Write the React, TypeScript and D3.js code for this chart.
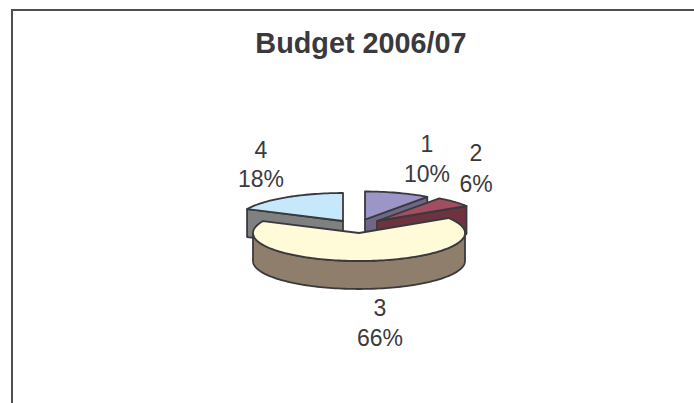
import React from "react";
import * as d3 from "d3";

const categories = ["1", "2", "3", "4"];
const percentages = [10, 6, 66, 18];
const topColors = ["#9c95c8", "#a34d63", "#fffad8", "#c5e9fb"];
const sideColors = ["#6f6785", "#6f3340", "#8f7e6c", "#7f8080"];
const title = "Budget 2006/07";

const W = 694, H = 403;
const rx = 106, ry = 28, depth = 28;
const tips: [number, number][] = [[365, 219.5], [377, 221], [359, 233], [343, 221]];
const labelPos: [number, number, number][] = [[427, 152, 182], [476, 161, 192], [380, 316, 346], [261, 158, 187]];
const drawOrder = [3, 0, 1, 2];
const ink = "#3a3a3e";

const arcs = d3.pie<number>().sort(null).value((d) => d)(percentages);
const line = d3.line<[number, number]>().x((p) => p[0]).y((p) => p[1]);
const pt = (tip: [number, number], a: number, dy = 0): [number, number] => [
  tip[0] + rx * Math.sin(a),
  tip[1] - ry * Math.cos(a) + dy,
];
const sample = (a0: number, a1: number) => {
  const n = Math.max(2, Math.ceil((a1 - a0) / 0.03));
  return d3.range(n + 1).map((i) => a0 + ((a1 - a0) * i) / n);
};

export default function App() {
  return (
    <svg width={W} height={H} viewBox={`0 0 ${W} ${H}`} style={{ position: "absolute", left: 0, top: 0, background: "#fff" }}>
      <rect x={12} y={10} width={W + 40} height={H + 40} fill="#fff" stroke="#4f4f4f" strokeWidth={2} />
      <text x={361} y={53} textAnchor="middle" fontFamily="'Liberation Sans', Arial, sans-serif" fontWeight={700} fontSize={28.8} fill={ink}>
        {title}
      </text>
      {drawOrder.map((i) => {
        const tip = tips[i];
        const { startAngle: a0, endAngle: a1 } = arcs[i];
        const top = sample(a0, a1).map((a) => pt(tip, a));
        const topPath = line([tip, ...top]) + "Z";
        const cutAngle = i === 3 ? a0 : a1;
        const cut = line([tip, pt(tip, cutAngle), pt(tip, cutAngle, depth), [tip[0], tip[1] + depth]]) + "Z";
        const f0 = Math.max(a0, Math.PI / 2), f1 = Math.min(a1, (3 * Math.PI) / 2);
        const wall = f1 > f0
          ? line([...sample(f0, f1).map((a) => pt(tip, a)), ...sample(f0, f1).reverse().map((a) => pt(tip, a, depth))]) + "Z"
          : null;
        return (
          <g key={categories[i]} stroke={ink} strokeWidth={1.8} strokeLinejoin="round">
            {i !== 2 && <path d={cut} fill={sideColors[i]} />}
            {wall && <path d={wall} fill={sideColors[i]} />}
            <path d={topPath} fill={topColors[i]} />
          </g>
        );
      })}
      {categories.map((c, i) => (
        <g key={c} textAnchor="middle" fontFamily="'Liberation Sans', Arial, sans-serif" fontSize={23} fill={ink}>
          <text x={labelPos[i][0]} y={labelPos[i][1]}>{c}</text>
          <text x={labelPos[i][0]} y={labelPos[i][2]}>{percentages[i]}%</text>
        </g>
      ))}
    </svg>
  );
}
